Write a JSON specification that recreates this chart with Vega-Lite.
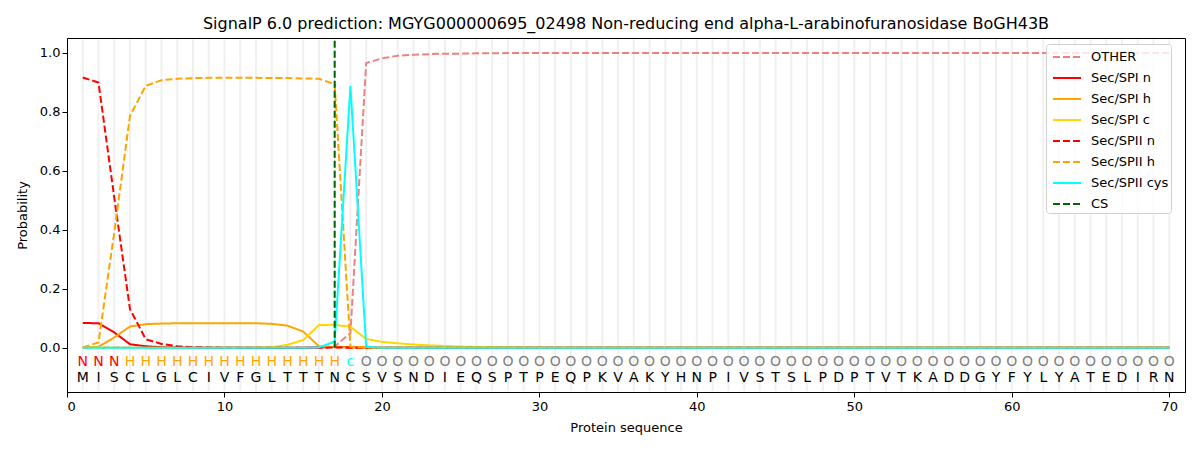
{
  "$schema": "https://vega.github.io/schema/vega-lite/v6.json",
  "autosize": {"type": "none"},
  "width": 1118,
  "height": 354,
  "padding": {"left": 67, "top": 38, "right": 15, "bottom": 58},
  "background": "white",
  "title": {"text": "SignalP 6.0 prediction: MGYG000000695_02498 Non-reducing end alpha-L-arabinofuranosidase BoGH43B", "fontSize": 16, "font": "DejaVu Sans", "fontWeight": "normal", "offset": 5, "color": "black"},
  "config": {
    "view": {"stroke": "black", "strokeWidth": 1},
    "axis": {"labelFont": "DejaVu Sans", "titleFont": "DejaVu Sans", "labelFontSize": 13, "titleFontSize": 13, "titleFontWeight": "normal", "labelColor": "black", "titleColor": "black", "tickColor": "black", "domainColor": "black", "tickSize": 5, "grid": false},
    "legend": {"labelFont": "DejaVu Sans", "labelFontSize": 13, "labelColor": "black"}
  },
  "datasets": {
    "seq": [
      {"pos": 1, "aa": "M", "label": "N", "OTHER": 0.001, "Sec/SPI n": 0.084, "Sec/SPI h": 0.001, "Sec/SPI c": 0, "Sec/SPII n": 0.916, "Sec/SPII h": 0.001, "Sec/SPII cys": 0},
      {"pos": 2, "aa": "I", "label": "N", "OTHER": 0.001, "Sec/SPI n": 0.083, "Sec/SPI h": 0.003, "Sec/SPI c": 0, "Sec/SPII n": 0.899, "Sec/SPII h": 0.018, "Sec/SPII cys": 0},
      {"pos": 3, "aa": "S", "label": "N", "OTHER": 0.001, "Sec/SPI n": 0.052, "Sec/SPI h": 0.035, "Sec/SPI c": 0, "Sec/SPII n": 0.51, "Sec/SPII h": 0.39, "Sec/SPII cys": 0},
      {"pos": 4, "aa": "C", "label": "H", "OTHER": 0, "Sec/SPI n": 0.012, "Sec/SPI h": 0.072, "Sec/SPI c": 0, "Sec/SPII n": 0.131, "Sec/SPII h": 0.786, "Sec/SPII cys": 0},
      {"pos": 5, "aa": "L", "label": "H", "OTHER": 0, "Sec/SPI n": 0.005, "Sec/SPI h": 0.08, "Sec/SPI c": 0, "Sec/SPII n": 0.029, "Sec/SPII h": 0.888, "Sec/SPII cys": 0},
      {"pos": 6, "aa": "G", "label": "H", "OTHER": 0, "Sec/SPI n": 0.002, "Sec/SPI h": 0.082, "Sec/SPI c": 0, "Sec/SPII n": 0.013, "Sec/SPII h": 0.907, "Sec/SPII cys": 0},
      {"pos": 7, "aa": "L", "label": "H", "OTHER": 0, "Sec/SPI n": 0.001, "Sec/SPI h": 0.083, "Sec/SPI c": 0, "Sec/SPII n": 0.005, "Sec/SPII h": 0.912, "Sec/SPII cys": 0},
      {"pos": 8, "aa": "C", "label": "H", "OTHER": 0, "Sec/SPI n": 0, "Sec/SPI h": 0.083, "Sec/SPI c": 0, "Sec/SPII n": 0.002, "Sec/SPII h": 0.914, "Sec/SPII cys": 0},
      {"pos": 9, "aa": "I", "label": "H", "OTHER": 0, "Sec/SPI n": 0, "Sec/SPI h": 0.083, "Sec/SPI c": 0, "Sec/SPII n": 0.001, "Sec/SPII h": 0.915, "Sec/SPII cys": 0},
      {"pos": 10, "aa": "V", "label": "H", "OTHER": 0, "Sec/SPI n": 0, "Sec/SPI h": 0.083, "Sec/SPI c": 0, "Sec/SPII n": 0, "Sec/SPII h": 0.915, "Sec/SPII cys": 0},
      {"pos": 11, "aa": "F", "label": "H", "OTHER": 0, "Sec/SPI n": 0, "Sec/SPI h": 0.083, "Sec/SPI c": 0, "Sec/SPII n": 0, "Sec/SPII h": 0.915, "Sec/SPII cys": 0},
      {"pos": 12, "aa": "G", "label": "H", "OTHER": 0, "Sec/SPI n": 0, "Sec/SPI h": 0.083, "Sec/SPI c": 0.001, "Sec/SPII n": 0, "Sec/SPII h": 0.915, "Sec/SPII cys": 0},
      {"pos": 13, "aa": "L", "label": "H", "OTHER": 0, "Sec/SPI n": 0, "Sec/SPI h": 0.081, "Sec/SPI c": 0.002, "Sec/SPII n": 0, "Sec/SPII h": 0.914, "Sec/SPII cys": 0},
      {"pos": 14, "aa": "T", "label": "H", "OTHER": 0, "Sec/SPI n": 0, "Sec/SPI h": 0.075, "Sec/SPI c": 0.01, "Sec/SPII n": 0, "Sec/SPII h": 0.914, "Sec/SPII cys": 0},
      {"pos": 15, "aa": "T", "label": "H", "OTHER": 0, "Sec/SPI n": 0, "Sec/SPI h": 0.055, "Sec/SPI c": 0.026, "Sec/SPII n": 0, "Sec/SPII h": 0.913, "Sec/SPII cys": 0},
      {"pos": 16, "aa": "T", "label": "H", "OTHER": 0.001, "Sec/SPI n": 0.001, "Sec/SPI h": 0.005, "Sec/SPI c": 0.077, "Sec/SPII n": 0, "Sec/SPII h": 0.912, "Sec/SPII cys": 0.001},
      {"pos": 17, "aa": "N", "label": "H", "OTHER": 0.004, "Sec/SPI n": 0.003, "Sec/SPI h": 0.002, "Sec/SPI c": 0.078, "Sec/SPII n": 0.001, "Sec/SPII h": 0.893, "Sec/SPII cys": 0.021},
      {"pos": 18, "aa": "C", "label": "c", "OTHER": 0.05, "Sec/SPI n": 0.002, "Sec/SPI h": 0.001, "Sec/SPI c": 0.071, "Sec/SPII n": 0, "Sec/SPII h": 0.004, "Sec/SPII cys": 0.888},
      {"pos": 19, "aa": "S", "label": "O", "OTHER": 0.965, "Sec/SPI n": 0.001, "Sec/SPI h": 0, "Sec/SPI c": 0.03, "Sec/SPII n": 0, "Sec/SPII h": 0.001, "Sec/SPII cys": 0.003},
      {"pos": 20, "aa": "V", "label": "O", "OTHER": 0.981, "Sec/SPI n": 0, "Sec/SPI h": 0, "Sec/SPI c": 0.02, "Sec/SPII n": 0, "Sec/SPII h": 0, "Sec/SPII cys": 0},
      {"pos": 21, "aa": "S", "label": "O", "OTHER": 0.99, "Sec/SPI n": 0, "Sec/SPI h": 0, "Sec/SPI c": 0.015, "Sec/SPII n": 0, "Sec/SPII h": 0, "Sec/SPII cys": 0},
      {"pos": 22, "aa": "N", "label": "O", "OTHER": 0.993, "Sec/SPI n": 0, "Sec/SPI h": 0, "Sec/SPI c": 0.011, "Sec/SPII n": 0, "Sec/SPII h": 0, "Sec/SPII cys": 0},
      {"pos": 23, "aa": "D", "label": "O", "OTHER": 0.995, "Sec/SPI n": 0, "Sec/SPI h": 0, "Sec/SPI c": 0.008, "Sec/SPII n": 0, "Sec/SPII h": 0, "Sec/SPII cys": 0},
      {"pos": 24, "aa": "I", "label": "O", "OTHER": 0.997, "Sec/SPI n": 0, "Sec/SPI h": 0, "Sec/SPI c": 0.006, "Sec/SPII n": 0, "Sec/SPII h": 0, "Sec/SPII cys": 0},
      {"pos": 25, "aa": "E", "label": "O", "OTHER": 0.997, "Sec/SPI n": 0, "Sec/SPI h": 0, "Sec/SPI c": 0.004, "Sec/SPII n": 0, "Sec/SPII h": 0, "Sec/SPII cys": 0},
      {"pos": 26, "aa": "Q", "label": "O", "OTHER": 0.998, "Sec/SPI n": 0, "Sec/SPI h": 0, "Sec/SPI c": 0.003, "Sec/SPII n": 0, "Sec/SPII h": 0, "Sec/SPII cys": 0},
      {"pos": 27, "aa": "S", "label": "O", "OTHER": 0.998, "Sec/SPI n": 0, "Sec/SPI h": 0, "Sec/SPI c": 0.002, "Sec/SPII n": 0, "Sec/SPII h": 0, "Sec/SPII cys": 0},
      {"pos": 28, "aa": "P", "label": "O", "OTHER": 0.999, "Sec/SPI n": 0, "Sec/SPI h": 0, "Sec/SPI c": 0.001, "Sec/SPII n": 0, "Sec/SPII h": 0, "Sec/SPII cys": 0},
      {"pos": 29, "aa": "T", "label": "O", "OTHER": 0.999, "Sec/SPI n": 0, "Sec/SPI h": 0, "Sec/SPI c": 0.001, "Sec/SPII n": 0, "Sec/SPII h": 0, "Sec/SPII cys": 0},
      {"pos": 30, "aa": "P", "label": "O", "OTHER": 0.999, "Sec/SPI n": 0, "Sec/SPI h": 0, "Sec/SPI c": 0, "Sec/SPII n": 0, "Sec/SPII h": 0, "Sec/SPII cys": 0},
      {"pos": 31, "aa": "E", "label": "O", "OTHER": 0.999, "Sec/SPI n": 0, "Sec/SPI h": 0, "Sec/SPI c": 0, "Sec/SPII n": 0, "Sec/SPII h": 0, "Sec/SPII cys": 0},
      {"pos": 32, "aa": "Q", "label": "O", "OTHER": 0.999, "Sec/SPI n": 0, "Sec/SPI h": 0, "Sec/SPI c": 0, "Sec/SPII n": 0, "Sec/SPII h": 0, "Sec/SPII cys": 0},
      {"pos": 33, "aa": "P", "label": "O", "OTHER": 0.999, "Sec/SPI n": 0, "Sec/SPI h": 0, "Sec/SPI c": 0, "Sec/SPII n": 0, "Sec/SPII h": 0, "Sec/SPII cys": 0},
      {"pos": 34, "aa": "K", "label": "O", "OTHER": 0.999, "Sec/SPI n": 0, "Sec/SPI h": 0, "Sec/SPI c": 0, "Sec/SPII n": 0, "Sec/SPII h": 0, "Sec/SPII cys": 0},
      {"pos": 35, "aa": "V", "label": "O", "OTHER": 0.999, "Sec/SPI n": 0, "Sec/SPI h": 0, "Sec/SPI c": 0, "Sec/SPII n": 0, "Sec/SPII h": 0, "Sec/SPII cys": 0},
      {"pos": 36, "aa": "A", "label": "O", "OTHER": 0.999, "Sec/SPI n": 0, "Sec/SPI h": 0, "Sec/SPI c": 0, "Sec/SPII n": 0, "Sec/SPII h": 0, "Sec/SPII cys": 0},
      {"pos": 37, "aa": "K", "label": "O", "OTHER": 0.999, "Sec/SPI n": 0, "Sec/SPI h": 0, "Sec/SPI c": 0, "Sec/SPII n": 0, "Sec/SPII h": 0, "Sec/SPII cys": 0},
      {"pos": 38, "aa": "Y", "label": "O", "OTHER": 0.999, "Sec/SPI n": 0, "Sec/SPI h": 0, "Sec/SPI c": 0, "Sec/SPII n": 0, "Sec/SPII h": 0, "Sec/SPII cys": 0},
      {"pos": 39, "aa": "H", "label": "O", "OTHER": 0.999, "Sec/SPI n": 0, "Sec/SPI h": 0, "Sec/SPI c": 0, "Sec/SPII n": 0, "Sec/SPII h": 0, "Sec/SPII cys": 0},
      {"pos": 40, "aa": "N", "label": "O", "OTHER": 0.999, "Sec/SPI n": 0, "Sec/SPI h": 0, "Sec/SPI c": 0, "Sec/SPII n": 0, "Sec/SPII h": 0, "Sec/SPII cys": 0},
      {"pos": 41, "aa": "P", "label": "O", "OTHER": 0.999, "Sec/SPI n": 0, "Sec/SPI h": 0, "Sec/SPI c": 0, "Sec/SPII n": 0, "Sec/SPII h": 0, "Sec/SPII cys": 0},
      {"pos": 42, "aa": "I", "label": "O", "OTHER": 0.999, "Sec/SPI n": 0, "Sec/SPI h": 0, "Sec/SPI c": 0, "Sec/SPII n": 0, "Sec/SPII h": 0, "Sec/SPII cys": 0},
      {"pos": 43, "aa": "V", "label": "O", "OTHER": 0.999, "Sec/SPI n": 0, "Sec/SPI h": 0, "Sec/SPI c": 0, "Sec/SPII n": 0, "Sec/SPII h": 0, "Sec/SPII cys": 0},
      {"pos": 44, "aa": "S", "label": "O", "OTHER": 0.999, "Sec/SPI n": 0, "Sec/SPI h": 0, "Sec/SPI c": 0, "Sec/SPII n": 0, "Sec/SPII h": 0, "Sec/SPII cys": 0},
      {"pos": 45, "aa": "T", "label": "O", "OTHER": 0.999, "Sec/SPI n": 0, "Sec/SPI h": 0, "Sec/SPI c": 0, "Sec/SPII n": 0, "Sec/SPII h": 0, "Sec/SPII cys": 0},
      {"pos": 46, "aa": "S", "label": "O", "OTHER": 0.999, "Sec/SPI n": 0, "Sec/SPI h": 0, "Sec/SPI c": 0, "Sec/SPII n": 0, "Sec/SPII h": 0, "Sec/SPII cys": 0},
      {"pos": 47, "aa": "L", "label": "O", "OTHER": 0.999, "Sec/SPI n": 0, "Sec/SPI h": 0, "Sec/SPI c": 0, "Sec/SPII n": 0, "Sec/SPII h": 0, "Sec/SPII cys": 0},
      {"pos": 48, "aa": "P", "label": "O", "OTHER": 0.999, "Sec/SPI n": 0, "Sec/SPI h": 0, "Sec/SPI c": 0, "Sec/SPII n": 0, "Sec/SPII h": 0, "Sec/SPII cys": 0},
      {"pos": 49, "aa": "D", "label": "O", "OTHER": 0.999, "Sec/SPI n": 0, "Sec/SPI h": 0, "Sec/SPI c": 0, "Sec/SPII n": 0, "Sec/SPII h": 0, "Sec/SPII cys": 0},
      {"pos": 50, "aa": "P", "label": "O", "OTHER": 0.999, "Sec/SPI n": 0, "Sec/SPI h": 0, "Sec/SPI c": 0, "Sec/SPII n": 0, "Sec/SPII h": 0, "Sec/SPII cys": 0},
      {"pos": 51, "aa": "T", "label": "O", "OTHER": 0.999, "Sec/SPI n": 0, "Sec/SPI h": 0, "Sec/SPI c": 0, "Sec/SPII n": 0, "Sec/SPII h": 0, "Sec/SPII cys": 0},
      {"pos": 52, "aa": "V", "label": "O", "OTHER": 0.999, "Sec/SPI n": 0, "Sec/SPI h": 0, "Sec/SPI c": 0, "Sec/SPII n": 0, "Sec/SPII h": 0, "Sec/SPII cys": 0},
      {"pos": 53, "aa": "T", "label": "O", "OTHER": 0.999, "Sec/SPI n": 0, "Sec/SPI h": 0, "Sec/SPI c": 0, "Sec/SPII n": 0, "Sec/SPII h": 0, "Sec/SPII cys": 0},
      {"pos": 54, "aa": "K", "label": "O", "OTHER": 0.999, "Sec/SPI n": 0, "Sec/SPI h": 0, "Sec/SPI c": 0, "Sec/SPII n": 0, "Sec/SPII h": 0, "Sec/SPII cys": 0},
      {"pos": 55, "aa": "A", "label": "O", "OTHER": 0.999, "Sec/SPI n": 0, "Sec/SPI h": 0, "Sec/SPI c": 0, "Sec/SPII n": 0, "Sec/SPII h": 0, "Sec/SPII cys": 0},
      {"pos": 56, "aa": "D", "label": "O", "OTHER": 0.999, "Sec/SPI n": 0, "Sec/SPI h": 0, "Sec/SPI c": 0, "Sec/SPII n": 0, "Sec/SPII h": 0, "Sec/SPII cys": 0},
      {"pos": 57, "aa": "D", "label": "O", "OTHER": 0.999, "Sec/SPI n": 0, "Sec/SPI h": 0, "Sec/SPI c": 0, "Sec/SPII n": 0, "Sec/SPII h": 0, "Sec/SPII cys": 0},
      {"pos": 58, "aa": "G", "label": "O", "OTHER": 0.999, "Sec/SPI n": 0, "Sec/SPI h": 0, "Sec/SPI c": 0, "Sec/SPII n": 0, "Sec/SPII h": 0, "Sec/SPII cys": 0},
      {"pos": 59, "aa": "Y", "label": "O", "OTHER": 0.999, "Sec/SPI n": 0, "Sec/SPI h": 0, "Sec/SPI c": 0, "Sec/SPII n": 0, "Sec/SPII h": 0, "Sec/SPII cys": 0},
      {"pos": 60, "aa": "F", "label": "O", "OTHER": 0.999, "Sec/SPI n": 0, "Sec/SPI h": 0, "Sec/SPI c": 0, "Sec/SPII n": 0, "Sec/SPII h": 0, "Sec/SPII cys": 0},
      {"pos": 61, "aa": "Y", "label": "O", "OTHER": 0.999, "Sec/SPI n": 0, "Sec/SPI h": 0, "Sec/SPI c": 0, "Sec/SPII n": 0, "Sec/SPII h": 0, "Sec/SPII cys": 0},
      {"pos": 62, "aa": "L", "label": "O", "OTHER": 0.999, "Sec/SPI n": 0, "Sec/SPI h": 0, "Sec/SPI c": 0, "Sec/SPII n": 0, "Sec/SPII h": 0, "Sec/SPII cys": 0},
      {"pos": 63, "aa": "Y", "label": "O", "OTHER": 0.999, "Sec/SPI n": 0, "Sec/SPI h": 0, "Sec/SPI c": 0, "Sec/SPII n": 0, "Sec/SPII h": 0, "Sec/SPII cys": 0},
      {"pos": 64, "aa": "A", "label": "O", "OTHER": 0.999, "Sec/SPI n": 0, "Sec/SPI h": 0, "Sec/SPI c": 0, "Sec/SPII n": 0, "Sec/SPII h": 0, "Sec/SPII cys": 0},
      {"pos": 65, "aa": "T", "label": "O", "OTHER": 0.999, "Sec/SPI n": 0, "Sec/SPI h": 0, "Sec/SPI c": 0, "Sec/SPII n": 0, "Sec/SPII h": 0, "Sec/SPII cys": 0},
      {"pos": 66, "aa": "E", "label": "O", "OTHER": 0.999, "Sec/SPI n": 0, "Sec/SPI h": 0, "Sec/SPI c": 0, "Sec/SPII n": 0, "Sec/SPII h": 0, "Sec/SPII cys": 0},
      {"pos": 67, "aa": "D", "label": "O", "OTHER": 0.999, "Sec/SPI n": 0, "Sec/SPI h": 0, "Sec/SPI c": 0, "Sec/SPII n": 0, "Sec/SPII h": 0, "Sec/SPII cys": 0},
      {"pos": 68, "aa": "I", "label": "O", "OTHER": 0.999, "Sec/SPI n": 0, "Sec/SPI h": 0, "Sec/SPI c": 0, "Sec/SPII n": 0, "Sec/SPII h": 0, "Sec/SPII cys": 0},
      {"pos": 69, "aa": "R", "label": "O", "OTHER": 0.999, "Sec/SPI n": 0, "Sec/SPI h": 0, "Sec/SPI c": 0, "Sec/SPII n": 0, "Sec/SPII h": 0, "Sec/SPII cys": 0},
      {"pos": 70, "aa": "N", "label": "O", "OTHER": 0.999, "Sec/SPI n": 0, "Sec/SPI h": 0, "Sec/SPI c": 0, "Sec/SPII n": 0, "Sec/SPII h": 0, "Sec/SPII cys": 0}
    ],
    "cs": [{"pos": 17, "series": "CS"}]
  },
  "layer": [
    {
      "data": {"name": "seq"},
      "mark": {"type": "rule", "color": "#f0f0f0", "strokeWidth": 2},
      "encoding": {
        "x": {"field": "pos", "type": "quantitative", "scale": {"domain": [0, 71], "nice": false}},
        "y": {"datum": -0.146},
        "y2": {"datum": 1.046}
      }
    },
    {
      "data": {"name": "seq"},
      "transform": [{"fold": ["OTHER", "Sec/SPI n", "Sec/SPI h", "Sec/SPI c", "Sec/SPII n", "Sec/SPII h", "Sec/SPII cys"], "as": ["series", "prob"]}],
      "mark": {"type": "line", "strokeWidth": 2},
      "encoding": {
        "x": {"field": "pos", "type": "quantitative", "scale": {"domain": [0, 71], "nice": false},
              "axis": {"values": [0, 10, 20, 30, 40, 50, 60, 70], "title": "Protein sequence", "format": "d", "labelPadding": 3, "titlePadding": 8}},
        "y": {"field": "prob", "type": "quantitative", "scale": {"domain": [-0.15, 1.05], "nice": false, "zero": false},
              "axis": {"values": [0, 0.2, 0.4, 0.6, 0.8, 1.0], "format": ".1f", "title": "Probability", "titlePadding": 10}},
        "color": {"field": "series", "type": "nominal",
                  "scale": {"domain": ["OTHER", "Sec/SPI n", "Sec/SPI h", "Sec/SPI c", "Sec/SPII n", "Sec/SPII h", "Sec/SPII cys", "CS"],
                            "range": ["#f08080", "#ff0000", "#ffa500", "#ffd700", "#ff0000", "#ffa500", "#00ffff", "#006400"]},
                  "legend": {"title": null, "orient": "none", "legendX": 979, "legendY": 6, "fillColor": "rgba(255,255,255,0.8)", "strokeColor": "#d0d0d0", "cornerRadius": 3, "padding": 2, "symbolType": "M-1.4,0H1.4", "symbolSize": 400, "symbolOffset": 8, "symbolStrokeWidth": 2, "rowPadding": 3, "labelOffset": 13}},
        "strokeDash": {"field": "series", "type": "nominal",
                  "scale": {"domain": ["OTHER", "Sec/SPI n", "Sec/SPI h", "Sec/SPI c", "Sec/SPII n", "Sec/SPII h", "Sec/SPII cys", "CS"],
                            "range": [[7, 3], [1, 0], [1, 0], [1, 0], [7, 3], [7, 3], [1, 0], [7, 3]]},
                  "legend": {"title": null, "orient": "none", "legendX": 979, "legendY": 6, "fillColor": "rgba(255,255,255,0.8)", "strokeColor": "#d0d0d0", "cornerRadius": 3, "padding": 2, "symbolType": "M-1.4,0H1.4", "symbolSize": 400, "symbolOffset": 8, "symbolStrokeWidth": 2, "rowPadding": 3, "labelOffset": 13}}
      }
    },
    {
      "data": {"name": "cs"},
      "mark": {"type": "rule", "strokeWidth": 2},
      "encoding": {
        "x": {"field": "pos", "type": "quantitative"},
        "y": {"datum": 0},
        "y2": {"datum": 1.05},
        "color": {"field": "series", "type": "nominal"},
        "strokeDash": {"field": "series", "type": "nominal"}
      }
    },
    {
      "data": {"name": "seq"},
      "mark": {"type": "text", "font": "DejaVu Sans", "fontSize": 14, "baseline": "middle", "align": "center"},
      "encoding": {
        "x": {"field": "pos", "type": "quantitative"},
        "y": {"datum": -0.047},
        "text": {"field": "label"},
        "fill": {"field": "label", "type": "nominal", "scale": {"domain": ["N", "H", "c", "O"], "range": ["#ff0000", "#ffa500", "#00ffff", "#808080"]}, "legend": null}
      }
    },
    {
      "data": {"name": "seq"},
      "mark": {"type": "text", "font": "DejaVu Sans", "fontSize": 14, "baseline": "middle", "align": "center", "color": "black"},
      "encoding": {
        "x": {"field": "pos", "type": "quantitative"},
        "y": {"datum": -0.102},
        "text": {"field": "aa"}
      }
    }
  ]
}
